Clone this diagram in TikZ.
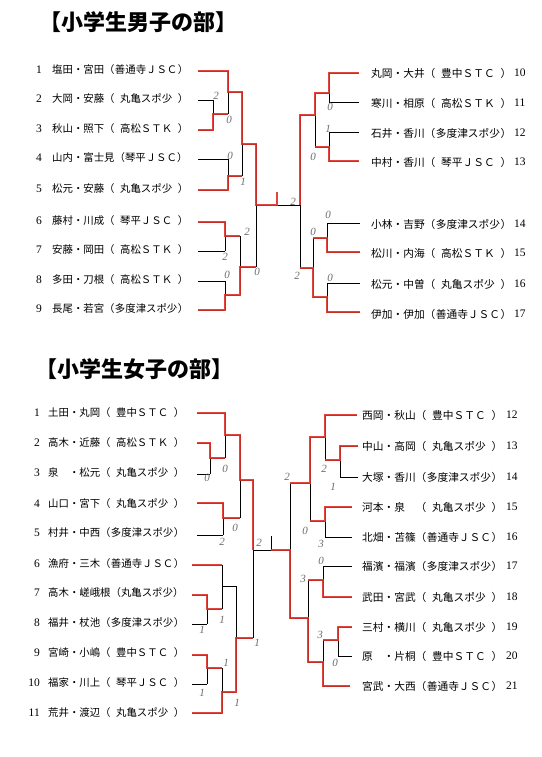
\documentclass[tikz,border=0pt]{standalone}
\usepackage{fontspec}
\setmainfont{Liberation Serif}
\newfontfamily\jp{Noto Sans CJK JP}
\definecolor{pen}{RGB}{224,48,38}
\definecolor{pencil}{RGB}{110,110,110}
\newcommand\entL[2]{\makebox[136pt][s]{#1（\hfill#2\hfill）}}
\newcommand\entR[2]{\makebox[140pt][s]{#1（\hfill#2\hfill）}}
\newcommand\br[5]{\draw[bl] (#1,#2) -- (#1,#3) (#1,#4) -- (#5,#4);}
\tikzset{
  bl/.style={draw=black, line width=0.75pt},
  rd/.style={draw=pen, line width=2.3pt, opacity=0.9},
  entl/.style={anchor=west, inner sep=0pt, font=\jp\fontsize{10.4}{12}\selectfont},
  entr/.style={anchor=west, inner sep=0pt, font=\jp\fontsize{10.7}{12}\selectfont},
  num/.style={inner sep=0pt, font=\fontsize{11.5}{12}\selectfont},
  ttl/.style={inner sep=0pt, font=\jp\bfseries\fontsize{22}{24}\selectfont},
  sc/.style={inner sep=0pt, text=pencil, font=\fontsize{11}{11}\selectfont\itshape}
}
\begin{document}
\begin{tikzpicture}[x=1pt,y=-1pt]
\useasboundingbox (0,0) rectangle (541,757);
\fill[white] (0,0) rectangle (541,757);

% ---------------- titles
\node[ttl] (t1) at (138,22) {【小学生男子の部】};
\node[ttl] (t2) at (134,369) {【小学生女子の部】};

% ---------------- boys left entries
\node[num,anchor=east] (bn1) at (42,70) {1};
\node[entl] (b1) at (52,70) {\entL{塩田・宮田}{善通寺ＪＳＣ}};
\node[num,anchor=east] (bn2) at (42,99) {2};
\node[entl] (b2) at (52,99) {\entL{大岡・安藤}{丸亀スポ少}};
\node[num,anchor=east] (bn3) at (42,129) {3};
\node[entl] (b3) at (52,129) {\entL{秋山・照下}{高松ＳＴＫ}};
\node[num,anchor=east] (bn4) at (42,158) {4};
\node[entl] (b4) at (52,158) {\makebox[136pt][s]{山内・富士見（琴平ＪＳＣ）}};
\node[num,anchor=east] (bn5) at (42,189) {5};
\node[entl] (b5) at (52,189) {\entL{松元・安藤}{丸亀スポ少}};
\node[num,anchor=east] (bn6) at (42,221) {6};
\node[entl] (b6) at (52,221) {\entL{藤村・川成}{琴平ＪＳＣ}};
\node[num,anchor=east] (bn7) at (42,250) {7};
\node[entl] (b7) at (52,250) {\entL{安藤・岡田}{高松ＳＴＫ}};
\node[num,anchor=east] (bn8) at (42,280) {8};
\node[entl] (b8) at (52,280) {\entL{多田・刀根}{高松ＳＴＫ}};
\node[num,anchor=east] (bn9) at (42,309) {9};
\node[entl] (b9) at (52,309) {\entL{長尾・若宮}{多度津スポ少}};

% ---------------- boys right entries
\node[entr] (b10) at (371,73) {\entR{丸岡・大井}{豊中ＳＴＣ}};
\node[num,anchor=west] (bn10) at (514,73) {10};
\node[entr] (b11) at (371,103) {\entR{寒川・相原}{高松ＳＴＫ}};
\node[num,anchor=west] (bn11) at (514,103) {11};
\node[entr] (b12) at (371,133) {\entR{石井・香川}{多度津スポ少}};
\node[num,anchor=west] (bn12) at (514,133) {12};
\node[entr] (b13) at (371,162) {\entR{中村・香川}{琴平ＪＳＣ}};
\node[num,anchor=west] (bn13) at (514,162) {13};
\node[entr] (b14) at (371,224) {\entR{小林・吉野}{多度津スポ少}};
\node[num,anchor=west] (bn14) at (514,224) {14};
\node[entr] (b15) at (371,253) {\entR{松川・内海}{高松ＳＴＫ}};
\node[num,anchor=west] (bn15) at (514,253) {15};
\node[entr] (b16) at (371,284) {\entR{松元・中曽}{丸亀スポ少}};
\node[num,anchor=west] (bn16) at (514,284) {16};
\node[entr] (b17) at (371,314) {\entR{伊加・伊加}{善通寺ＪＳＣ}};
\node[num,anchor=west] (bn17) at (514,314) {17};

% ---------------- girls left entries
\node[num,anchor=east] (gn1) at (40,413) {1};
\node[entl] (g1) at (48,413) {\entL{土田・丸岡}{豊中ＳＴＣ}};
\node[num,anchor=east] (gn2) at (40,443) {2};
\node[entl] (g2) at (48,443) {\entL{高木・近藤}{高松ＳＴＫ}};
\node[num,anchor=east] (gn3) at (40,473) {3};
\node[entl] (g3) at (48,473) {\entL{泉　・松元}{丸亀スポ少}};
\node[num,anchor=east] (gn4) at (40,504) {4};
\node[entl] (g4) at (48,504) {\entL{山口・宮下}{丸亀スポ少}};
\node[num,anchor=east] (gn5) at (40,533) {5};
\node[entl] (g5) at (48,533) {\entL{村井・中西}{多度津スポ少}};
\node[num,anchor=east] (gn6) at (40,564) {6};
\node[entl] (g6) at (48,564) {\entL{漁府・三木}{善通寺ＪＳＣ}};
\node[num,anchor=east] (gn7) at (40,593) {7};
\node[entl] (g7) at (48,593) {\makebox[136pt][s]{高木・嵯峨根（丸亀スポ少）}};
\node[num,anchor=east] (gn8) at (40,623) {8};
\node[entl] (g8) at (48,623) {\entL{福井・杖池}{多度津スポ少}};
\node[num,anchor=east] (gn9) at (40,653) {9};
\node[entl] (g9) at (48,653) {\entL{宮崎・小嶋}{豊中ＳＴＣ}};
\node[num,anchor=east] (gn10) at (40,683) {10};
\node[entl] (g10) at (48,683) {\entL{福家・川上}{琴平ＪＳＣ}};
\node[num,anchor=east] (gn11) at (40,713) {11};
\node[entl] (g11) at (48,713) {\entL{荒井・渡辺}{丸亀スポ少}};

% ---------------- girls right entries
\node[entr] (g12) at (362,415) {\entR{西岡・秋山}{豊中ＳＴＣ}};
\node[num,anchor=west] (gn12) at (506,415) {12};
\node[entr] (g13) at (362,446) {\entR{中山・高岡}{丸亀スポ少}};
\node[num,anchor=west] (gn13) at (506,446) {13};
\node[entr] (g14) at (362,477) {\entR{大塚・香川}{多度津スポ少}};
\node[num,anchor=west] (gn14) at (506,477) {14};
\node[entr] (g15) at (362,507) {\entR{河本・泉　}{丸亀スポ少}};
\node[num,anchor=west] (gn15) at (506,507) {15};
\node[entr] (g16) at (362,537) {\entR{北畑・苫篠}{善通寺ＪＳＣ}};
\node[num,anchor=west] (gn16) at (506,537) {16};
\node[entr] (g17) at (362,566) {\entR{福濱・福濱}{多度津スポ少}};
\node[num,anchor=west] (gn17) at (506,566) {17};
\node[entr] (g18) at (362,597) {\entR{武田・宮武}{丸亀スポ少}};
\node[num,anchor=west] (gn18) at (506,597) {18};
\node[entr] (g19) at (362,627) {\entR{三村・横川}{丸亀スポ少}};
\node[num,anchor=west] (gn19) at (506,627) {19};
\node[entr] (g20) at (362,656) {\entR{原　・片桐}{豊中ＳＴＣ}};
\node[num,anchor=west] (gn20) at (506,656) {20};
\node[entr] (g21) at (362,686) {\entR{宮武・大西}{善通寺ＪＳＣ}};
\node[num,anchor=west] (gn21) at (506,686) {21};

% ================= boys bracket (black)
\draw[bl] (198,71)--(228,71) (198,100)--(213,100) (198,130)--(213,130)
          (198,159)--(228,159) (198,190)--(228,190)
          (198,222)--(225,222) (198,251)--(225,251)
          (198,281)--(225,281) (198,310)--(225,310);
\br{213}{100}{130}{114}{228}
\br{228}{71}{114}{92}{242}
\br{228}{159}{190}{176}{242}
\br{242}{92}{176}{144}{256}
\br{225}{222}{251}{236}{240}
\br{225}{281}{310}{295}{240}
\br{240}{236}{295}{267}{256}
\draw[bl] (256,144)--(256,267) (256,205)--(300,205);
\draw[bl] (329,73)--(359,73) (329,102)--(359,102) (329,132)--(359,132) (329,161)--(359,161)
          (327,223)--(360,223) (327,252)--(360,252) (327,283)--(360,283) (327,312)--(360,312);
\br{329}{73}{102}{93}{315}
\br{329}{132}{161}{147}{315}
\br{315}{93}{147}{115}{300}
\br{327}{223}{252}{238}{313}
\br{327}{283}{312}{297}{313}
\br{313}{238}{297}{268}{300}
\draw[bl] (300,115)--(300,268);

% boys red (winners)
\draw[rd] (198,71) -| (228,92) -| (242,144) -| (256,205) -- (277,205) -- (277,192);
\draw[rd] (198,130) -| (213,114) -- (228,114);
\draw[rd] (198,190) -| (228,176) -- (242,176);
\draw[rd] (198,222) -| (225,236) -- (240,236);
\draw[rd] (198,310) -| (225,295) -| (240,267) -- (256,267);
\draw[rd] (359,73) -| (329,93) -| (315,115) -| (300,205);
\draw[rd] (359,161) -| (329,147) -- (315,147);
\draw[rd] (360,252) -| (327,238) -- (313,238);
\draw[rd] (360,312) -| (327,297) -| (313,268) -- (300,268);

% ================= girls bracket (black)
\draw[bl] (197,413)--(225,413) (197,443)--(210,443) (197,474)--(210,474)
          (197,503)--(223,503) (197,535)--(223,535)
          (192,565)--(222,565) (192,595)--(207,595) (192,624)--(207,624)
          (192,655)--(207,655) (192,684)--(207,684) (192,713)--(222,713);
\br{210}{443}{474}{458}{225}
\br{225}{413}{458}{435}{240}
\br{223}{503}{535}{518}{240}
\br{240}{435}{518}{480}{253}
\br{207}{595}{624}{609}{222}
\br{222}{565}{609}{586}{236}
\br{207}{655}{684}{668}{222}
\br{222}{668}{713}{692}{236}
\br{236}{586}{692}{638}{253}
\draw[bl] (253,480)--(253,638) (253,550)--(290,550) (271,550)--(271,536);
\draw[bl] (325,415)--(357,415) (340,446)--(358,446) (340,477)--(358,477)
          (325,507)--(352,507) (325,537)--(352,537)
          (323,566)--(352,566) (323,597)--(352,597)
          (338,627)--(352,627) (338,656)--(352,656) (323,686)--(350,686);
\br{340}{446}{477}{460}{325}
\br{325}{415}{460}{437}{310}
\br{325}{507}{537}{521}{310}
\br{310}{437}{521}{483}{290}
\br{323}{566}{597}{580}{308}
\br{338}{627}{656}{640}{323}
\br{323}{640}{686}{662}{308}
\br{308}{580}{662}{618}{290}
\draw[bl] (290,483)--(290,618);

% girls red (winners)
\draw[rd] (197,413) -| (225,435) -| (240,480) -| (253,550);
\draw[rd] (197,443) -| (210,458) -- (225,458);
\draw[rd] (197,503) -| (223,518) -- (240,518);
\draw[rd] (192,565) -- (222,565);
\draw[rd] (192,595) -| (207,609) -- (222,609);
\draw[rd] (192,655) -| (207,668) -- (222,668);
\draw[rd] (192,713) -| (222,692) -| (236,638) -- (253,638);
\draw[rd] (357,415) -| (325,437) -| (310,483) -- (290,483);
\draw[rd] (358,446) -| (340,460) -- (325,460);
\draw[rd] (352,507) -| (325,521) -- (310,521);
\draw[rd] (352,597) -| (323,580) -- (308,580);
\draw[rd] (352,627) -| (338,640) -- (323,640);
\draw[rd] (350,686) -| (323,662) -| (308,618) -| (290,550) -- (271,550);

% ================= scores (pencil)
\node[sc] (s1) at (216,96) {2};
\node[sc] (s2) at (229,120) {0};
\node[sc] (s3) at (230,156) {0};
\node[sc] (s4) at (243,182) {1};
\node[sc] (s5) at (247,232) {2};
\node[sc] (s6) at (225,257) {2};
\node[sc] (s7) at (227,275) {0};
\node[sc] (s8) at (257,272) {0};
\node[sc] (s9) at (293,202) {2};
\node[sc] (s10) at (330,107) {0};
\node[sc] (s11) at (328,129) {1};
\node[sc] (s12) at (313,157) {0};
\node[sc] (s13) at (328,215) {0};
\node[sc] (s14) at (313,232) {0};
\node[sc] (s15) at (297,276) {2};
\node[sc] (s16) at (330,278) {0};

\node[sc] (u1) at (225,469) {0};
\node[sc] (u2) at (207,478) {0};
\node[sc] (u3) at (235,528) {0};
\node[sc] (u4) at (222,542) {2};
\node[sc] (u5) at (259,543) {2};
\node[sc] (u6) at (202,630) {1};
\node[sc] (u7) at (222,620) {1};
\node[sc] (u8) at (257,643) {1};
\node[sc] (u9) at (226,663) {1};
\node[sc] (u10) at (202,693) {1};
\node[sc] (u11) at (237,703) {1};
\node[sc] (u12) at (287,477) {2};
\node[sc] (u13) at (324,469) {2};
\node[sc] (u14) at (333,487) {1};
\node[sc] (u15) at (305,531) {0};
\node[sc] (u16) at (321,544) {3};
\node[sc] (u17) at (321,561) {0};
\node[sc] (u18) at (303,579) {3};
\node[sc] (u19) at (320,635) {3};
\node[sc] (u20) at (335,663) {0};
\end{tikzpicture}
\end{document}
